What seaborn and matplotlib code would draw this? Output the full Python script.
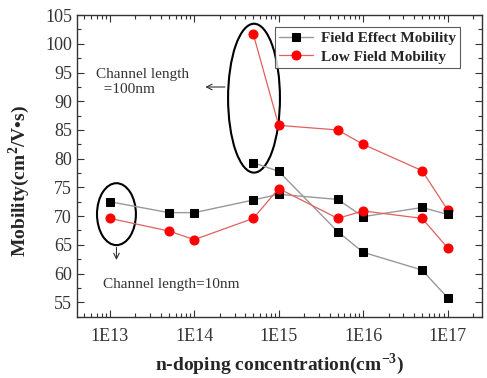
import numpy as np
import pandas as pd
import matplotlib
matplotlib.use("Agg")
import matplotlib.pyplot as plt
import seaborn as sns
from matplotlib.patches import Ellipse
from matplotlib.ticker import LogLocator, MultipleLocator, NullFormatter

# doping concentrations (cm^-3)
conc = [1e13, 5e13, 1e14, 5e14, 1e15, 5e15, 1e16, 5e16, 1e17]
conc_100 = [5e14, 1e15, 5e15, 1e16, 5e16, 1e17]

# channel length = 10nm
fe_10nm = [72.5, 70.6, 70.6, 72.8, 73.8, 72.9, 69.9, 71.5, 70.3]
lf_10nm = [69.6, 67.4, 65.9, 69.6, 74.8, 69.6, 70.9, 69.6, 64.5]

# channel length = 100nm
fe_100nm = [79.3, 77.8, 67.3, 63.7, 60.6, 55.8]
lf_100nm = [101.7, 85.8, 85.0, 82.5, 77.9, 71.1]

xticks = [1e13, 1e14, 1e15, 1e16, 1e17]
xticklabels = ["1E13", "1E14", "1E15", "1E16", "1E17"]

sns.set_style("ticks")
plt.rcParams["font.family"] = ["Liberation Serif", "DejaVu Serif"]
plt.rcParams["mathtext.fontset"] = "custom"
plt.rcParams["mathtext.rm"] = "Liberation Serif"
plt.rcParams["mathtext.bf"] = "Liberation Serif:bold"

fig = plt.figure(figsize=(4.87, 3.78), dpi=100)
ax = fig.add_axes([0.158, 0.161, 0.832, 0.799])

black_kw = dict(color="#999999", lw=1.0, marker="s", markersize=6,
                markerfacecolor="black", markeredgecolor="black")
red_kw = dict(color="#e06060", lw=0.9, marker="o", markersize=6.5,
              markerfacecolor="red", markeredgecolor="red")

sns.lineplot(x=conc_100, y=fe_100nm, ax=ax, label="Field Effect Mobility", **black_kw)
sns.lineplot(x=conc_100, y=lf_100nm, ax=ax, label="Low Field Mobility", **red_kw)
sns.lineplot(x=conc, y=fe_10nm, ax=ax, **black_kw)
sns.lineplot(x=conc, y=lf_10nm, ax=ax, **red_kw)

ax.set_xscale("log")
ax.set_xlim(10 ** 12.61, 10 ** 17.41)
ax.set_ylim(52.4, 105)
ax.set_xticks(xticks)
ax.set_xticklabels(xticklabels)
ax.xaxis.set_minor_locator(LogLocator(base=10, subs=np.arange(2, 10), numticks=20))
ax.xaxis.set_minor_formatter(NullFormatter())
ax.yaxis.set_major_locator(MultipleLocator(5))
ax.yaxis.set_minor_locator(MultipleLocator(2.5))
ax.tick_params(which="both", direction="in", top=True, right=True, labelsize=13,
               colors="#333333", labelcolor="#333333")
ax.tick_params(which="major", length=5, width=0.8)
ax.tick_params(which="minor", length=3, width=0.8)
ax.tick_params(axis="x", pad=8)
for s in ax.spines.values():
    s.set_color("#333333")
    s.set_linewidth(1.0)

ax.set_xlabel(r"n-doping concentration(cm$^\mathbf{-3}$)", fontsize=14,
              fontweight="bold", labelpad=4)
ax.set_ylabel(r"Mobility(cm$^\mathbf{2}$/V•s)", fontsize=14, fontweight="bold")
ax.yaxis.set_label_coords(-0.112, 0.45)

leg = ax.legend(loc="upper right", bbox_to_anchor=(0.946, 0.96), frameon=True,
                fancybox=False, edgecolor="#333333", handlelength=2.2,
                borderpad=0.3, labelspacing=0.3, handletextpad=0.5,
                borderaxespad=0, prop={"weight": "bold", "size": 11})
leg.get_frame().set_linewidth(0.8)

# ellipses around the 100nm and 10nm groups
ax.add_patch(Ellipse((0.437, 0.725), 0.128, 0.493, transform=ax.transAxes,
                     fill=False, edgecolor="black", lw=1.5))
ax.add_patch(Ellipse((0.0975, 0.341), 0.096, 0.205, transform=ax.transAxes,
                     fill=False, edgecolor="black", lw=1.5))

ax.annotate("", xy=(0.31, 0.762), xytext=(0.372, 0.762), xycoords="axes fraction",
            arrowprops=dict(arrowstyle="->", color="#333333", lw=0.8))
ax.text(0.048, 0.78, "Channel length\n  =100nm", transform=ax.transAxes,
        fontsize=11, color="#333333", va="center", ha="left", linespacing=1.2)

ax.annotate("", xy=(0.0975, 0.18), xytext=(0.0975, 0.24), xycoords="axes fraction",
            arrowprops=dict(arrowstyle="->", color="#333333", lw=0.8))
ax.text(0.065, 0.107, "Channel length=10nm", transform=ax.transAxes,
        fontsize=11, color="#333333", va="center", ha="left")

fig.savefig("out.png", dpi=100)
